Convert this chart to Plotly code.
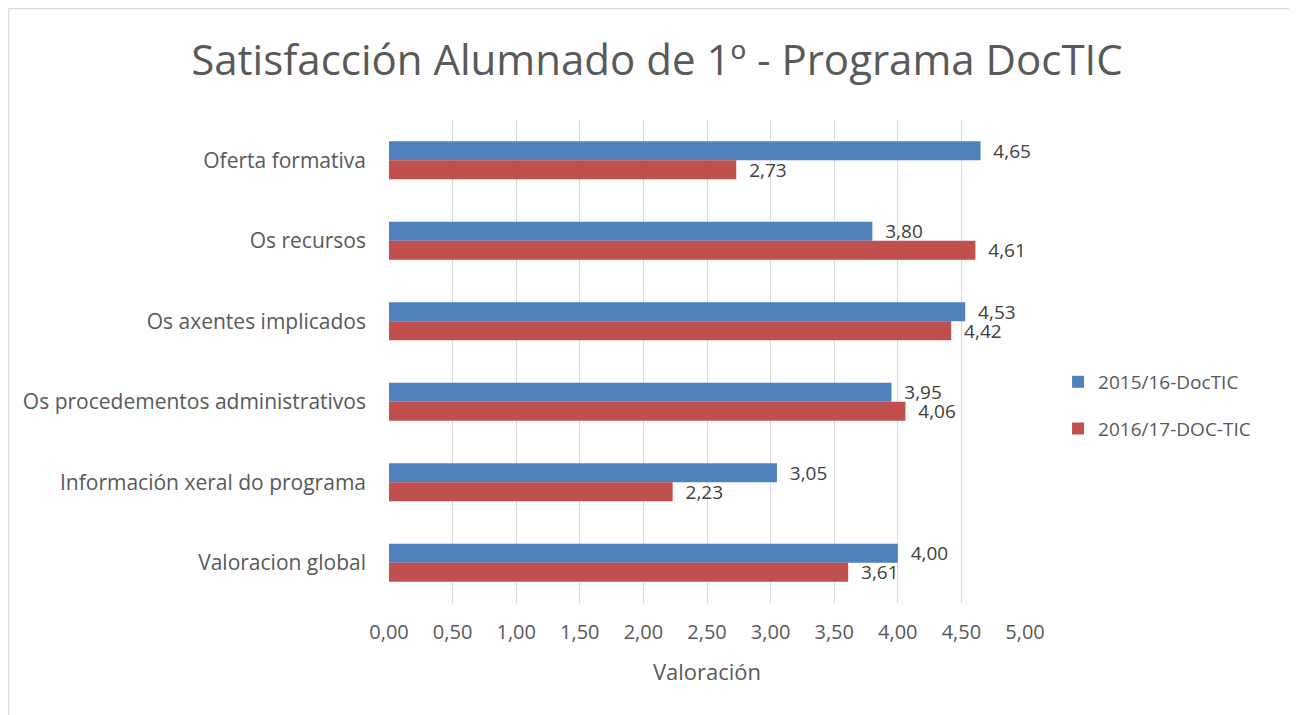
import plotly.graph_objects as go

categories = ["Oferta formativa", "Os recursos", "Os axentes implicados",
              "Os procedementos administrativos", "Información xeral do programa",
              "Valoracion global"]
series_names = ["2015/16-DocTIC", "2016/17-DOC-TIC"]
values_2015 = [4.65, 3.80, 4.53, 3.95, 3.05, 4.00]
values_2016 = [2.73, 4.61, 4.42, 4.06, 2.23, 3.61]
colors = ["#4F81BD", "#C0504D"]

FONT = "Open Sans"
L, T, PW, PH = 381, 112, 636, 483
W, H = 1289, 707

fig = go.Figure()
for i, (name, vals, col) in enumerate(zip(series_names, [values_2015, values_2016], colors)):
    fig.add_trace(go.Bar(
        y=categories, x=vals, name=name, orientation="h",
        legendgroup=f"g{i}",
        marker=dict(color=col, line=dict(width=0)),
        texttemplate="  %{x:.2f}", textposition="outside",
        constraintext="none",
        textfont=dict(family=FONT, size=19, color="#404040"),
        cliponaxis=False,
    ))

fig.update_layout(
    width=W, height=H,
    margin=dict(l=L, r=W - L - PW, t=T, b=H - T - PH),
    separators=",.",
    paper_bgcolor="white", plot_bgcolor="white",
    barmode="group", bargap=0.53, bargroupgap=0,
    title=dict(text="Satisfacción Alumnado de 1º - Programa DocTIC",
               x=649 / W, xanchor="center", y=1 - 52 / H, yanchor="middle",
               font=dict(family=FONT, size=42, color="#595959")),
    font=dict(family=FONT, color="#595959"),
    legend=dict(x=1.052, y=0.409, xanchor="left", yanchor="middle",
                traceorder="grouped", tracegroupgap=19,
                font=dict(family=FONT, size=19, color="#595959"),
                itemwidth=30),
    showlegend=True,
)
fig.update_xaxes(range=[0, 5], dtick=0.5, tickformat=".2f",
                 showgrid=True, gridcolor="#D9D9D9", gridwidth=1,
                 zeroline=False, showline=False, ticks="",
                 ticklabelstandoff=15,
                 tickfont=dict(family=FONT, size=20, color="#595959"),
                 title=dict(text="Valoración", font=dict(family=FONT, size=22, color="#595959"),
                            standoff=20))
fig.update_yaxes(autorange="reversed", showgrid=False, showline=False, ticks="",
                 ticklabelstandoff=22,
                 tickfont=dict(family=FONT, size=21, color="#595959"))

x_left = (0.5 - L) / PW
x_right = (W + 40 - L) / PW
y_top = (T + PH - 0.5) / PH
y_bottom = -(H + 40 - T - PH) / PH
fig.add_shape(type="line", xref="paper", yref="paper",
              x0=x_left, x1=x_right, y0=y_top, y1=y_top,
              line=dict(color="#D9D9D9", width=1.5), layer="below")
fig.add_shape(type="line", xref="paper", yref="paper",
              x0=x_left, x1=x_left, y0=y_bottom, y1=y_top,
              line=dict(color="#D9D9D9", width=1.5), layer="below")

fig.write_html("out.html")
